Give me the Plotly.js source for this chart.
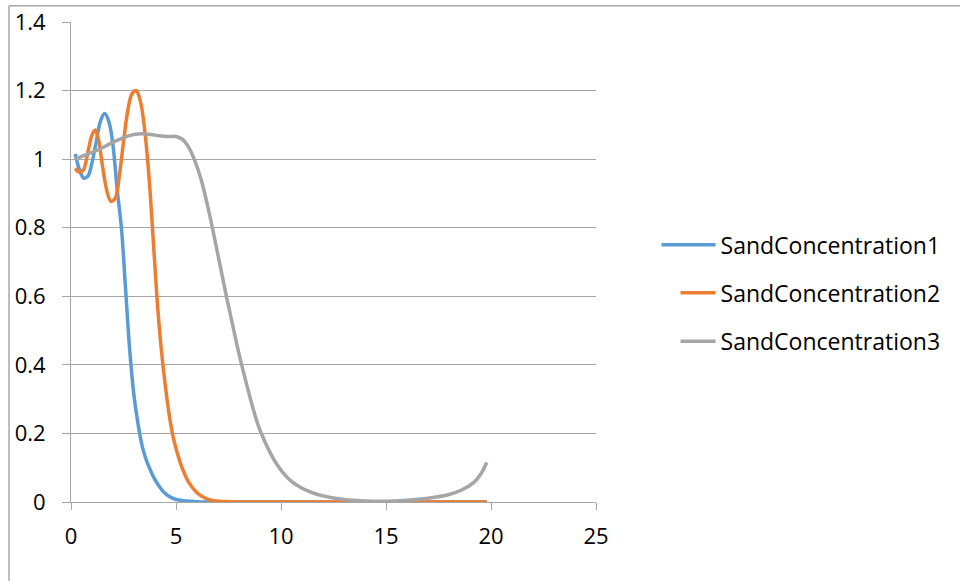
<!DOCTYPE html>
<html>
<head>
<meta charset="utf-8">
<script src="https://cdn.plot.ly/plotly-3.0.1.min.js"></script>
<style>
  html, body { margin: 0; padding: 0; background: #ffffff; }
  #chart { width: 960px; height: 581px; }
</style>
</head>
<body>
<div id="chart"></div>
<script>
// Sand concentration profiles for three runs
const series1X = [0.2, 0.4, 0.6, 0.8, 1.0, 1.2, 1.4, 1.6, 1.8, 2.0, 2.2, 2.4, 2.6, 2.8, 3.0, 3.2, 3.4, 3.6, 3.8, 4.0, 4.4, 4.8, 5.2, 6, 8, 10, 12, 14, 16, 18, 19.8];
const series1Y = [1.015, 0.97, 0.945, 0.95, 0.99, 1.05, 1.11, 1.133, 1.11, 1.04, 0.91, 0.80, 0.62, 0.44, 0.31, 0.225, 0.16, 0.12, 0.09, 0.065, 0.03, 0.012, 0.005, 0.001, 0, 0, 0, 0, 0, 0, 0];

const series2X = [0.2, 0.4, 0.6, 0.8, 1.0, 1.15, 1.3, 1.5, 1.7, 1.9, 2.1, 2.3, 2.5, 2.7, 2.9, 3.1, 3.3, 3.5, 3.7, 3.9, 4.1, 4.3, 4.5, 4.7, 4.9, 5.1, 5.3, 5.6, 6.0, 6.4, 6.8, 7.5, 10, 12, 14, 16, 18, 19.8];
const series2Y = [0.973, 0.962, 0.97, 1.02, 1.07, 1.085, 1.06, 0.98, 0.91, 0.877, 0.885, 0.95, 1.05, 1.14, 1.19, 1.2, 1.17, 1.09, 0.96, 0.78, 0.59, 0.445, 0.335, 0.245, 0.18, 0.135, 0.098, 0.058, 0.027, 0.011, 0.004, 0.001, 0, 0, 0, 0, 0, 0];

const series3X = [0.2, 0.6, 1.0, 1.4, 1.8, 2.2, 2.6, 3.0, 3.4, 3.8, 4.2, 4.6, 5.0, 5.3, 5.6, 5.9, 6.2, 6.5, 6.8, 7.1, 7.4, 7.7, 8.0, 8.3, 8.6, 8.9, 9.2, 9.5, 9.8, 10.1, 10.5, 11, 11.5, 12, 13, 14, 15, 16, 17, 18, 18.6, 19.2, 19.5, 19.8];
const series3Y = [1.0, 1.01, 1.02, 1.03, 1.043, 1.055, 1.065, 1.072, 1.074, 1.072, 1.068, 1.066, 1.066, 1.058, 1.035, 0.995, 0.94, 0.865, 0.78, 0.69, 0.6, 0.515, 0.432, 0.358, 0.288, 0.226, 0.18, 0.142, 0.11, 0.085, 0.06, 0.04, 0.027, 0.018, 0.007, 0.003, 0.002, 0.005, 0.011, 0.022, 0.035, 0.058, 0.08, 0.115];

const seriesNames = ["SandConcentration1", "SandConcentration2", "SandConcentration3"];
const seriesColors = ["#5B9BD5", "#ED7D31", "#A5A5A5"];

const xTicks = [0, 5, 10, 15, 20, 25];
const yTicks = [0, 0.2, 0.4, 0.6, 0.8, 1, 1.2, 1.4];

const FONT = "'Open Sans', 'Liberation Sans', sans-serif";
const AXIS_GREY = "#A6A6A6";

const xs = [series1X, series2X, series3X];
const ys = [series1Y, series2Y, series3Y];
const legendIds = ["legend", "legend2", "legend3"];

const traces = xs.map((x, i) => ({
  type: "scatter",
  mode: "lines",
  x: x,
  y: ys[i],
  name: seriesNames[i],
  legend: legendIds[i],
  line: { color: seriesColors[i], width: 3.5, shape: "spline", smoothing: 1 },
  hoverinfo: "x+y+name"
}));

const legendStyle = (yPos) => ({
  x: 1.161, xanchor: "left",
  y: yPos, yanchor: "middle",
  bgcolor: "rgba(0,0,0,0)",
  borderwidth: 0,
  font: { family: FONT, size: 23, color: "#000000" }
});

const layout = {
  width: 960,
  height: 581,
  margin: { l: 71, r: 364, t: 21.7, b: 79.3, pad: 0 },
  paper_bgcolor: "#ffffff",
  plot_bgcolor: "#ffffff",
  font: { family: FONT, size: 22, color: "#000000" },
  showlegend: true,
  legend: legendStyle(0.536),
  legend2: legendStyle(0.436),
  legend3: legendStyle(0.335),
  xaxis: {
    range: [0, 25],
    tickmode: "array",
    tickvals: xTicks,
    ticktext: xTicks.map(String),
    showgrid: false,
    zeroline: false,
    showline: true,
    linecolor: AXIS_GREY,
    linewidth: 1,
    ticks: "outside",
    ticklen: 7,
    tickcolor: AXIS_GREY,
    tickwidth: 1,
    ticklabelstandoff: 8,
    tickfont: { family: FONT, size: 22, color: "#000000" },
    fixedrange: true
  },
  yaxis: {
    range: [0, 1.4],
    tickmode: "array",
    tickvals: yTicks,
    ticktext: yTicks.map(String),
    showgrid: true,
    gridcolor: AXIS_GREY,
    gridwidth: 1,
    zeroline: false,
    showline: true,
    linecolor: AXIS_GREY,
    linewidth: 1,
    ticks: "outside",
    ticklen: 8,
    tickcolor: AXIS_GREY,
    tickwidth: 1,
    ticklabelstandoff: 12,
    tickfont: { family: FONT, size: 22, color: "#000000" },
    fixedrange: true
  },
  shapes: [
    // chart-area frame (top and left edges)
    { type: "line", xref: "paper", yref: "paper", x0: -0.118, x1: 1.75, y0: 1.0337, y1: 1.0337,
      line: { color: AXIS_GREY, width: 1.5 } },
    { type: "line", xref: "paper", yref: "paper", x0: -0.118, x1: -0.118, y0: 1.0337, y1: -0.2,
      line: { color: AXIS_GREY, width: 1.5 } }
  ]
};

Plotly.newPlot("chart", traces, layout, { displayModeBar: false, staticPlot: true }).then((gd) => {
  // lengthen the legend sample lines so they run up to the label text,
  // and lift the legend clipping so the longer lines are not cut off
  gd.querySelectorAll(".legend, .legend [clip-path]").forEach((el) => {
    el.removeAttribute("clip-path");
  });
  gd.querySelectorAll(".legendlines path").forEach((p) => {
    p.setAttribute("d", "M-19,0h54");
  });
});
</script>
</body>
</html>
